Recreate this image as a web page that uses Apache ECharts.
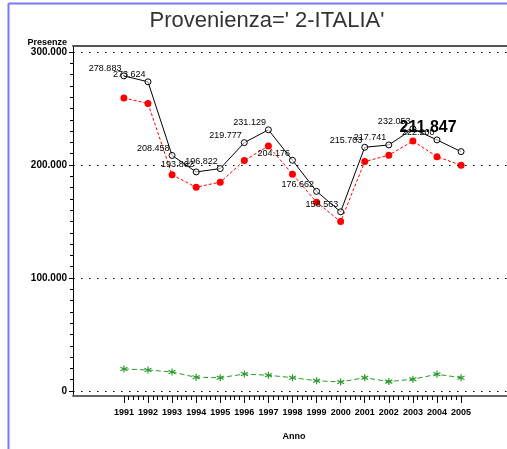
<!DOCTYPE html>
<html><head><meta charset="utf-8">
<script src="https://cdn.jsdelivr.net/npm/echarts@6/dist/echarts.min.js"></script>
<style>html,body{margin:0;padding:0;background:#fff}#c{width:507px;height:449px}</style>
</head><body><div id="c"></div>
<script>
var years = [1991,1992,1993,1994,1995,1996,1997,1998,1999,2000,2001,2002,2003,2004,2005];
var totale = [278883,273624,208458,193862,196822,219777,231129,204176,176662,158563,215703,217741,232053,222200,211847];
var serieRossa = [259300,254500,191300,180400,184800,203900,216800,191900,167100,149900,203000,208700,221200,207400,199800];
var serieVerde = [19500,18600,16800,12100,11800,15000,13900,11800,9100,8000,11800,8300,10400,14800,11800];
var yTicks = [0,100000,200000,300000];
var titleText = "Provenienza=' 2-ITALIA'";
var yName = "Presenze", xName = "Anno";

function fmt(v){ return String(Math.round(v)).replace(/\B(?=(\d{3})+(?!\d))/g,'.'); }
function pairs(arr){ return years.map(function(y,i){ return [y, arr[i]]; }); }
var minorX = [];
for (var i=0;i<years.length-1;i++){ for (var k=1;k<5;k++){ minorX.push(years[i]+k/5); } }
var minorY = [];
for (var v=0; v<=300000; v+=10000){ if (v%100000) minorY.push(v); }

var FONT = "'Liberation Sans',Arial,sans-serif";
var xMin = 1988.887, xMax = 2006.907;
var yMin = -4425, yMax = 305310;

var blackData = pairs(totale).map(function(p,i){
  var d = {value:p};
  if (i === years.length-1) {
    d.label = {fontSize:16, fontWeight:'bold', offset:[-1,-24]};
  }
  return d;
});

var chart = echarts.init(document.getElementById('c'), null, {renderer:'canvas'});
chart.setOption({
  animation:false,
  backgroundColor:'#fff',
  title:{text:titleText, left:262, top:5, textAlign:'center',
    textStyle:{fontFamily:FONT, fontSize:22, fontWeight:'normal', color:'#333'}},
  grid:{left:73, right:-1, top:46, bottom:53, show:false},
  xAxis:[
    {type:'value', min:xMin, max:xMax, position:'bottom',
     axisLine:{show:false, onZero:false},
     axisTick:{show:true, customValues:minorX, length:4, lineStyle:{color:'#000', width:1}},
     axisLabel:{show:false}, splitLine:{show:false}},
    {type:'value', min:xMin, max:xMax, position:'bottom',
     name:xName, nameLocation:'middle', nameGap:36,
     nameTextStyle:{fontFamily:FONT, fontSize:9, fontWeight:'bold', color:'#000', padding:[0,0,0,8]},
     axisLine:{show:true, onZero:false, lineStyle:{color:'#666', width:2}},
     axisTick:{show:true, customValues:years, length:7, lineStyle:{color:'#000', width:1}},
     axisLabel:{customValues:years, formatter:function(v){return String(v);}, margin:12,
       showMinLabel:true, showMaxLabel:true, hideOverlap:false,
       fontFamily:FONT, fontSize:9, fontWeight:'bold', color:'#000'},
     splitLine:{show:false}},
    {type:'value', min:xMin, max:xMax, position:'top',
     axisLine:{show:true, onZero:false, lineStyle:{color:'#555', width:2}},
     axisTick:{show:false}, axisLabel:{show:false}, splitLine:{show:false}}
  ],
  yAxis:[
    {type:'value', min:yMin, max:yMax, position:'left',
     name:yName, nameLocation:'end', nameGap:2,
     nameTextStyle:{fontFamily:FONT, fontSize:9, fontWeight:'bold', color:'#000', align:'right', verticalAlign:'middle', padding:[0,6,0,0]},
     axisLine:{show:true, onZero:false, lineStyle:{color:'#000', width:1}},
     axisTick:{show:true, customValues:yTicks, length:4, lineStyle:{color:'#000'}},
     axisLabel:{customValues:yTicks, formatter:fmt, margin:6, showMinLabel:true, showMaxLabel:true,
       fontFamily:FONT, fontSize:10, fontWeight:'bold', color:'#000'},
     splitLine:{show:false}},
    {type:'value', min:yMin, max:yMax, position:'left',
     axisLine:{show:false, onZero:false},
     axisTick:{show:true, customValues:minorY, length:3, lineStyle:{color:'#000'}},
     axisLabel:{show:false}, splitLine:{show:false}}
  ],
  series:[
    {type:'line', name:'verde', data:pairs(serieVerde), z:3,
     symbol:'path://M0,-5L0,5M-4.3,-2.5L4.3,2.5M-4.3,2.5L4.3,-2.5', symbolSize:7,
     itemStyle:{color:'#2a9a2a', borderColor:'#2a9a2a', borderWidth:1.2},
     lineStyle:{color:'#2a9a2a', width:1, type:[5,3]},
     markLine:{silent:true, symbol:['none','none'], label:{show:false},
       lineStyle:{color:'#000', width:1, type:[1.5,6.5]},
       data:yTicks.map(function(t){return {yAxis:t};})}},
    {type:'line', name:'rossa', data:pairs(serieRossa), z:4,
     symbol:'circle', symbolSize:7,
     itemStyle:{color:'#ff0000'},
     lineStyle:{color:'#ff0000', width:1, type:[3,2]}},
    {type:'line', name:'totale', data:blackData, z:5,
     symbol:'circle', symbolSize:6,
     itemStyle:{color:'rgba(255,255,255,0.6)', borderColor:'#000', borderWidth:1},
     lineStyle:{color:'#000', width:1},
     label:{show:true, position:'left', distance:0, offset:[1,-7],
       formatter:function(p){return fmt(p.value[1]);},
       fontFamily:FONT, fontSize:9, color:'#000'}}
  ],
  graphic:[
    {type:'line', shape:{x1:8.5, y1:3.5, x2:507, y2:3.5}, style:{stroke:'#7878f0', lineWidth:2}},
    {type:'line', shape:{x1:8.5, y1:3.5, x2:8.5, y2:449}, style:{stroke:'#7878f0', lineWidth:2}}
  ]
});
</script></body></html>
